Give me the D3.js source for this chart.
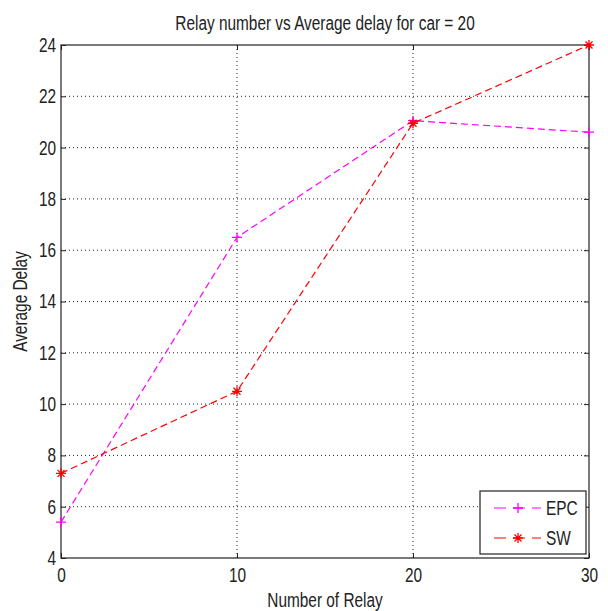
<!DOCTYPE html>
<html>
<head>
<meta charset="utf-8">
<script src="https://cdn.jsdelivr.net/npm/d3@7"></script>
<style>
  body { margin: 0; background: #fff; }
  svg text { font-family: "Liberation Sans", Arial, sans-serif; fill: #222; }
</style>
</head>
<body>
<svg id="chart" width="608" height="611"></svg>
<script>
"use strict";

// values
var relays = [0, 10, 20, 30];
var epc = [5.4, 16.5, 21.05, 20.6];
var sw = [7.3, 10.5, 20.95, 24.0];
var xTicks = [0, 10, 20, 30];
var yTicks = [4, 6, 8, 10, 12, 14, 16, 18, 20, 22, 24];

var series = [
  { name: 'EPC', values: epc, color: '#ff00ff', marker: 'plus' },
  { name: 'SW', values: sw, color: '#ff0000', marker: 'star' }
];

// the original uses a condensed face; squeeze Liberation Sans horizontally
var FS = 20;
var SQ = 0.77;

var svg = d3.select('#chart');
var margin = { top: 45, right: 19, bottom: 53, left: 61 };
var width = 608 - margin.left - margin.right;
var height = 611 - margin.top - margin.bottom;

var plot = svg.append('g')
  .attr('transform', 'translate(' + margin.left + ',' + margin.top + ')');

var xscale = d3.scaleLinear().domain([0, 30]).range([0, width]);
var yscale = d3.scaleLinear().domain([4, 24]).range([height, 0]);

// dotted grid
plot.append('g').selectAll('line')
  .data(xTicks.slice(1, -1))
  .join('line')
  .attr('x1', d => xscale(d)).attr('x2', d => xscale(d))
  .attr('y1', 0).attr('y2', height)
  .attr('stroke', '#222').attr('stroke-width', 1)
  .attr('stroke-dasharray', '1,3');
plot.append('g').selectAll('line')
  .data(yTicks.slice(1, -1))
  .join('line')
  .attr('y1', d => yscale(d)).attr('y2', d => yscale(d))
  .attr('x1', 0).attr('x2', width)
  .attr('stroke', '#222').attr('stroke-width', 1)
  .attr('stroke-dasharray', '1,3');

function styleAxis(g) {
  g.select('.domain').remove();
  g.selectAll('.tick line').attr('stroke', '#222');
  g.selectAll('.tick text').attr('font-size', FS).attr('fill', '#222');
}

// axes with inward ticks on all four sides
plot.append('g')
  .attr('transform', 'translate(0,' + height + ')')
  .call(d3.axisBottom(xscale).tickValues(xTicks).tickSizeInner(-5).tickSizeOuter(0).tickPadding(10))
  .call(styleAxis)
  .call(g => g.selectAll('.tick text').attr('transform', 'scale(' + SQ + ',1)'));
plot.append('g')
  .call(d3.axisLeft(yscale).tickValues(yTicks).tickSizeInner(-5).tickSizeOuter(0))
  .call(styleAxis)
  .call(g => g.selectAll('.tick text')
    .attr('x', -5 / SQ)
    .attr('transform', 'scale(' + SQ + ',1)'));
plot.append('g')
  .call(d3.axisTop(xscale).tickValues(xTicks).tickSizeInner(-5).tickSizeOuter(0).tickFormat(''))
  .call(styleAxis);
plot.append('g')
  .attr('transform', 'translate(' + width + ',0)')
  .call(d3.axisRight(yscale).tickValues(yTicks).tickSizeInner(-5).tickSizeOuter(0).tickFormat(''))
  .call(styleAxis);

plot.append('rect')
  .attr('width', width).attr('height', height)
  .attr('fill', 'none').attr('stroke', '#222').attr('stroke-width', 1.2);

var line = d3.line()
  .x((d, i) => xscale(relays[i]))
  .y(d => yscale(d));

function drawMarker(g, type, color, s) {
  var d = 'M' + (-s) + ',0H' + s + 'M0,' + (-s) + 'V' + s;
  if (type === 'star') {
    var k = s * 0.7;
    d += 'M' + (-k) + ',' + (-k) + 'L' + k + ',' + k + 'M' + (-k) + ',' + k + 'L' + k + ',' + (-k);
  }
  g.append('path').attr('d', d)
    .attr('stroke', color).attr('stroke-width', 1.3).attr('fill', 'none');
}

series.forEach(function (s) {
  plot.append('path')
    .datum(s.values)
    .attr('d', line)
    .attr('fill', 'none')
    .attr('stroke', s.color)
    .attr('stroke-width', 1.2)
    .attr('stroke-dasharray', '7,4');
  s.values.forEach(function (v, i) {
    var g = plot.append('g')
      .attr('transform', 'translate(' + xscale(relays[i]) + ',' + yscale(v) + ')');
    drawMarker(g, s.marker, s.color, 5);
  });
});

function squeezedText(parent, x, y, str, anchor, rot) {
  var g = parent.append('g')
    .attr('transform', 'translate(' + x + ',' + y + ')' + (rot ? ' rotate(' + rot + ')' : '') + ' scale(' + SQ + ',1)');
  g.append('text')
    .attr('text-anchor', anchor || 'start')
    .attr('font-size', FS)
    .text(str);
  return g;
}

// legend
var lg = plot.append('g').attr('transform', 'translate(' + (width - 109) + ',' + (height - 67) + ')');
lg.append('rect').attr('width', 106).attr('height', 63)
  .attr('fill', '#fff').attr('stroke', '#222').attr('stroke-width', 1.2);
series.forEach(function (s, i) {
  var yy = 17 + i * 30;
  lg.append('line').attr('x1', 14).attr('x2', 61).attr('y1', yy).attr('y2', yy)
    .attr('stroke', s.color).attr('stroke-width', 1.2).attr('stroke-dasharray', '12,7');
  var m = lg.append('g').attr('transform', 'translate(38,' + yy + ')');
  drawMarker(m, s.marker, s.color, 5);
  squeezedText(lg, 66, yy + 7, s.name, 'start');
});

// title and axis labels
squeezedText(svg, margin.left + width / 2, 30, 'Relay number vs Average delay for car = 20', 'middle');
squeezedText(svg, margin.left + width / 2, 607, 'Number of Relay', 'middle');
squeezedText(svg, 27, margin.top + height / 2, 'Average Delay', 'middle', -90);
</script>
</body>
</html>
